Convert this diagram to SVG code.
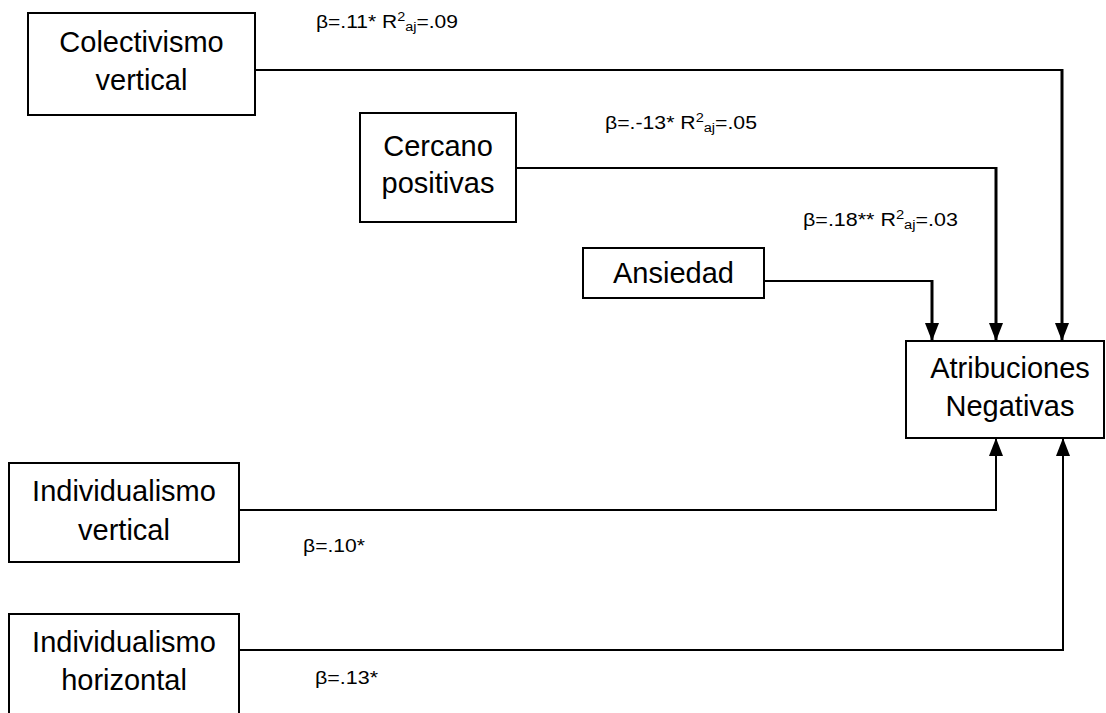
<svg xmlns="http://www.w3.org/2000/svg" width="1106" height="713" viewBox="0 0 1106 713">
  <style>
    .box { fill: #ffffff; stroke: #000000; stroke-width: 2; }
    .node-text { font-family: "Liberation Sans", Arial, sans-serif; font-size: 29px; fill: #000000; text-anchor: middle; }
    .lbl { font-family: "Liberation Sans", Arial, sans-serif; font-size: 17.5px; fill: #000000; }
    .sm { font-size: 12px; }
    .link { fill: none; stroke: #000000; stroke-width: 2; }
    .drop { fill: none; stroke: #000000; stroke-width: 3; }
  </style>
  <defs>
    <marker id="arrow" viewBox="0 0 18 14" refX="18" refY="7" markerWidth="18" markerHeight="14" markerUnits="userSpaceOnUse" orient="auto">
      <path d="M0,0 L18,7 L0,14 Z" fill="#000000"/>
    </marker>
  </defs>
  <rect width="1106" height="713" fill="#ffffff"/>

  <!-- connectors: horizontal runs, then the drops/rises into Atribuciones -->
  <g id="connectors">
    <path class="link" d="M255,70 H1062"/>
    <path class="drop" d="M1062,69 V341" marker-end="url(#arrow)"/>
    <path class="link" d="M516,168 H996"/>
    <path class="drop" d="M996,167 V341" marker-end="url(#arrow)"/>
    <path class="link" d="M764,281 H932"/>
    <path class="drop" d="M932,280 V341" marker-end="url(#arrow)"/>
    <path class="link" d="M239,510 H996 V438" marker-end="url(#arrow)"/>
    <path class="link" d="M239,650 H1063 V438" marker-end="url(#arrow)"/>
  </g>

  <!-- path coefficients -->
  <g id="labels">
    <text class="lbl" x="316" y="28" textLength="142" lengthAdjust="spacingAndGlyphs">β=.11* R<tspan class="sm" dy="-7">2</tspan><tspan class="sm" dy="10">aj</tspan><tspan dy="-3">=.09</tspan></text>
    <text class="lbl" x="605" y="129" textLength="152" lengthAdjust="spacingAndGlyphs">β=.-13* R<tspan class="sm" dy="-7">2</tspan><tspan class="sm" dy="10">aj</tspan><tspan dy="-3">=.05</tspan></text>
    <text class="lbl" x="803" y="226" textLength="155" lengthAdjust="spacingAndGlyphs">β=.18** R<tspan class="sm" dy="-7">2</tspan><tspan class="sm" dy="10">aj</tspan><tspan dy="-3">=.03</tspan></text>
    <text class="lbl" x="303" y="552" textLength="62" lengthAdjust="spacingAndGlyphs">β=.10*</text>
    <text class="lbl" x="315" y="684" textLength="63" lengthAdjust="spacingAndGlyphs">β=.13*</text>
  </g>

  <g id="colectivismo-vertical">
    <rect class="box" x="28" y="13" width="227" height="102"/>
    <text class="node-text" x="141.5" y="52">Colectivismo</text>
    <text class="node-text" x="141.5" y="90">vertical</text>
  </g>

  <g id="cercano-positivas">
    <rect class="box" x="360" y="113" width="156" height="109"/>
    <text class="node-text" x="438" y="156">Cercano</text>
    <text class="node-text" x="438" y="193">positivas</text>
  </g>

  <g id="ansiedad">
    <rect class="box" x="583" y="248" width="181" height="50"/>
    <text class="node-text" x="673.5" y="283">Ansiedad</text>
  </g>

  <g id="atribuciones-negativas">
    <rect class="box" x="906" y="341" width="198" height="97"/>
    <text class="node-text" x="1010" y="378">Atribuciones</text>
    <text class="node-text" x="1010" y="416">Negativas</text>
  </g>

  <g id="individualismo-vertical">
    <rect class="box" x="9" y="463" width="230" height="99"/>
    <text class="node-text" x="124" y="501">Individualismo</text>
    <text class="node-text" x="124" y="540">vertical</text>
  </g>

  <g id="individualismo-horizontal">
    <rect class="box" x="9" y="614" width="230" height="110"/>
    <text class="node-text" x="124" y="652">Individualismo</text>
    <text class="node-text" x="124" y="690">horizontal</text>
  </g>
</svg>
